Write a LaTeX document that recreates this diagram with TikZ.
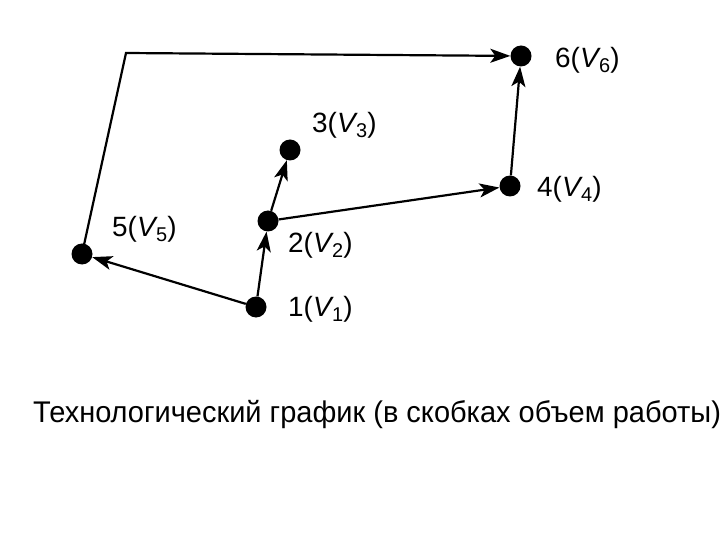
\documentclass[tikz,border=0pt]{standalone}
\usepackage{fontspec}
\setmainfont{Liberation Sans}
\usetikzlibrary{arrows.meta}
\newcommand{\vlab}[1]{#1({\itshape V}\kern0.02em\raisebox{-5bp}{\fontsize{20}{20}\selectfont #1})}
\begin{document}
\begin{tikzpicture}[x=1bp,y=-1bp,
  vtx/.style={circle,fill=black,minimum size=21bp,inner sep=0pt},
  lbl/.style={anchor=base west,inner sep=0pt,font=\fontsize{28}{28}\selectfont},
  edge/.style={line width=2.2bp,-{Stealth[length=20bp,width=14bp,inset=5bp]}}]
\useasboundingbox (0,0) rectangle (720,540);
\node[vtx] (v1) at (256,307) {};
\node[vtx] (v2) at (268,221) {};
\node[vtx] (v3) at (290,150) {};
\node[vtx] (v4) at (510,186) {};
\node[vtx] (v5) at (82,254) {};
\node[vtx] (v6) at (521,56) {};
\coordinate (c) at (126,53);
\node[lbl] (l6) at (555,68) {\vlab{6}};
\node[lbl] (l3) at (312,133) {\vlab{3}};
\node[lbl] (l4) at (537,197) {\vlab{4}};
\node[lbl] (l5) at (112,237) {\vlab{5}};
\node[lbl] (l2) at (288,253) {\vlab{2}};
\node[lbl] (l1) at (288,316) {\vlab{1}};
\draw[edge] (v1) -- (v5);
\draw[edge] (v1) -- (v2);
\draw[edge] (v2) -- (v3);
\draw[edge] (v2) -- (v4);
\draw[edge] (v4) -- (v6);
\draw[edge] (v5.center) -- (c) -- (v6);
\node[inner sep=0pt,anchor=base west,xscale=0.97,font=\fontsize{30}{30}\selectfont] (cap) at (33,422) {Технологический график (в скобках объем работы)};
\end{tikzpicture}
\end{document}
